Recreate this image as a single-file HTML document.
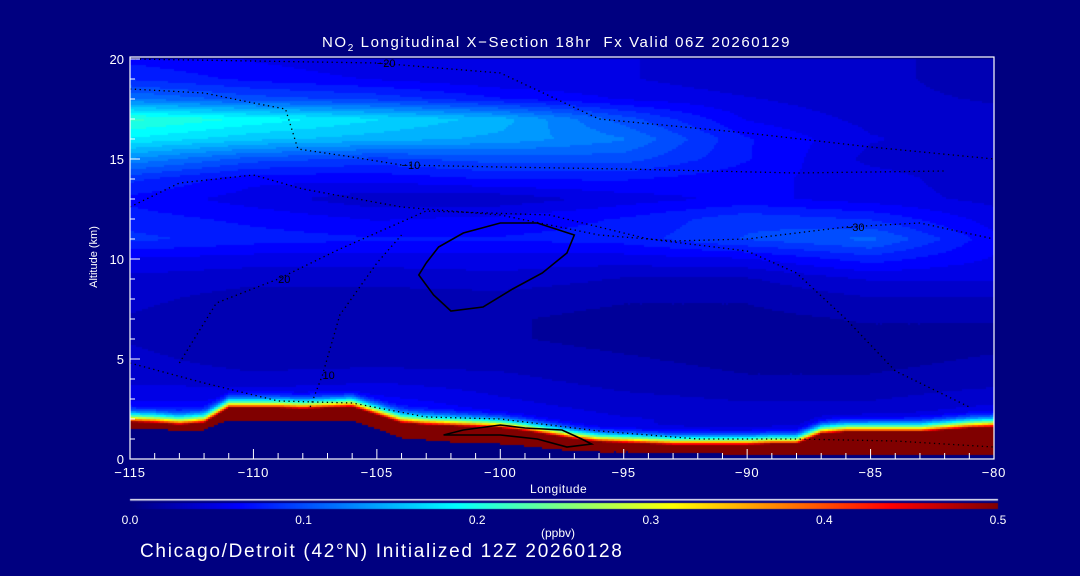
<!DOCTYPE html>
<html><head><meta charset="utf-8">
<style>
html,body{margin:0;padding:0;background:#000080;}
#wrap{position:relative;width:1080px;height:576px;background:#000080;overflow:hidden;font-family:"Liberation Sans",sans-serif;color:#fff;}
canvas{position:absolute;left:0;top:0;}
.t{position:absolute;white-space:nowrap;color:#fff;}
</style></head>
<body>
<div id="wrap">
<canvas id="cv" width="1080" height="576"></canvas>
<svg id="ov" width="1080" height="576" style="position:absolute;left:0;top:0"></svg>
<div class="t" style="left:322px;top:34px;font-size:15px;letter-spacing:1.6px;">NO<sub style="font-size:10px">2</sub> Longitudinal X&minus;Section 18hr&nbsp; Fx Valid 06Z 20260129</div>
<div class="t" style="left:54px;top:251px;font-size:11px;transform:rotate(-90deg);width:80px;text-align:center;">Altitude (km)</div>
<div class="t" style="left:530px;top:482px;font-size:12px;letter-spacing:0.5px;">Longitude</div>
<div class="t" style="left:541px;top:526px;font-size:12px;">(ppbv)</div>
<div class="t" style="left:140px;top:541px;font-size:19px;letter-spacing:1.7px;">Chicago/Detroit (42°N) Initialized 12Z 20260128</div>
</div>
<script>
const lons=[-115,-110,-105,-100,-95,-90,-85,-80];
const alts=[0,1,2,3,4,5,6,7,8,9,10,11,12,13,14,15,16,17,18,19,20];
const no2=[
[.07,.08,.09,.055,.045,.04,.045,.055],
[.07,.08,.09,.055,.045,.04,.045,.055],
[.07,.08,.09,.055,.045,.04,.045,.055],
[.055,.055,.06,.045,.035,.03,.03,.04],
[.04,.035,.04,.035,.025,.02,.02,.025],
[.035,.025,.025,.025,.02,.015,.015,.02],
[.03,.02,.02,.02,.015,.015,.015,.015],
[.03,.02,.02,.02,.015,.015,.02,.02],
[.035,.025,.025,.025,.02,.02,.03,.03],
[.04,.035,.035,.04,.03,.03,.045,.045],
[.055,.05,.05,.05,.05,.055,.075,.055],
[.085,.075,.07,.07,.075,.095,.11,.06],
[.075,.065,.055,.06,.07,.09,.08,.05],
[.065,.05,.035,.035,.05,.06,.05,.04],
[.085,.06,.06,.07,.07,.06,.05,.035],
[.13,.10,.09,.10,.10,.07,.04,.035],
[.18,.16,.15,.14,.12,.07,.045,.035],
[.21,.19,.17,.15,.10,.055,.04,.035],
[.12,.10,.09,.07,.055,.045,.035,.03],
[.08,.065,.055,.045,.045,.035,.035,.025],
[.065,.055,.045,.045,.045,.035,.035,.025]];
const terrLons=[-115,-114,-113,-112,-111,-110,-109,-108,-107,-106,-105,-104,-103,-102,-101,-100,-99,-98,-97,-96,-95,-94,-93,-92,-91,-90,-89,-88,-87,-86,-85,-84,-83,-82,-81,-80];
const terrTop=[1.85,1.8,1.7,1.8,2.55,2.55,2.55,2.5,2.55,2.6,2.2,1.8,1.7,1.65,1.6,1.55,1.4,1.2,1.0,0.85,0.8,0.75,0.7,0.7,0.7,0.7,0.75,0.75,1.25,1.35,1.35,1.35,1.35,1.45,1.55,1.6];
const redDepth=[0.3,0.3,0.3,0.35,0.6,0.6,0.6,0.6,0.6,0.7,0.7,0.75,0.75,0.8,0.8,0.8,0.75,0.7,0.6,0.5,0.45,0.4,0.4,0.4,0.45,0.45,0.5,0.5,1.0,1.1,1.1,1.1,1.1,1.2,1.3,1.4];
const xTicks=[-115,-110,-105,-100,-95,-90,-85,-80];
const xTickLabels=["\u2212115","\u2212110","\u2212105","\u2212100","\u221295","\u221290","\u221285","\u221280"];
const yTicks=[0,5,10,15,20];
const cbTicks=[0,0.1,0.2,0.3,0.4,0.5];
const cbLabels=["0.0","0.1","0.2","0.3","0.4","0.5"];
const contourZero=[[-103,9.8],[-102.5,10.6],[-101.5,11.3],[-100,11.8],[-98.5,11.8],[-97,11.2],[-97.3,10.3],[-98.3,9.3],[-99.5,8.5],[-100.7,7.6],[-102,7.4],[-102.7,8.2],[-103.3,9.2],[-103,9.8]];
const contourSurf=[[-102.3,1.2],[-101.5,1.45],[-100,1.7],[-99,1.55],[-97.5,1.45],[-96.7,1.0],[-96.3,0.75],[-97.3,0.6],[-98.5,1.0],[-100,1.2],[-101.5,1.2],[-102.3,1.2]];
const contourM10=[[-115,18.5],[-112,18.3],[-110,17.8],[-108.7,17.5],[-108.2,15.5],[-106,15.1],[-104,14.7],[-100,14.6],[-95,14.5],[-88,14.3],[-82,14.4]];
const contourM20=[[-115,12.6],[-113,13.8],[-110,14.2],[-108,13.5],[-104,12.6],[-100,12.2],[-96,11.2],[-93,10.9],[-90,11.0],[-86,11.6],[-83,11.8],[-80,11.0]];
const contourM30=[[-115,20],[-105,19.8],[-100,19.3],[-96,17.0],[-90,16.3],[-85,15.6],[-80,15.0]];
const contour20=[[-113,4.8],[-111.5,7.8],[-109,9.0],[-106.5,10.5],[-103,12.4],[-98,12.2],[-94,11.0],[-90,10.4],[-88,9.3],[-86,7.0],[-84,4.4],[-81,2.6]];
const contour10=[[-115,4.8],[-112,3.8],[-109,2.9],[-106,2.8],[-103,2.1],[-100,2.0],[-96,1.4],[-92,1.0],[-88,1.0],[-84,0.9],[-80,0.6]];
const contour10b=[[-107.7,2.6],[-107.2,4.2],[-106.5,7.2],[-105,9.8],[-104,11.2]];

const X0=130,X1=994,Y0=459,Y1=59;
const xs=l=>X0+(l-lons[0])/(lons[lons.length-1]-lons[0])*(X1-X0);
const ys=a=>Y0-(a-alts[0])/(alts[alts.length-1]-alts[0])*(Y0-Y1);
function interp1(arrX,arrY,x){if(x<=arrX[0])return arrY[0];for(let i=1;i<arrX.length;i++){if(x<=arrX[i]){const f=(x-arrX[i-1])/(arrX[i]-arrX[i-1]);return arrY[i-1]+f*(arrY[i]-arrY[i-1]);}}return arrY[arrY.length-1];}
function field(lon,alt){
  let i=0;while(i<lons.length-2&&lon>lons[i+1])i++;
  let j=0;while(j<alts.length-2&&alt>alts[j+1])j++;
  const fx=Math.min(1,Math.max(0,(lon-lons[i])/(lons[i+1]-lons[i])));
  const fy=Math.min(1,Math.max(0,(alt-alts[j])/(alts[j+1]-alts[j])));
  const a=no2[j][i],b=no2[j][i+1],c=no2[j+1][i],d=no2[j+1][i+1];
  return (a*(1-fx)+b*fx)*(1-fy)+(c*(1-fx)+d*fx)*fy;
}
function jet(v){
  let f=Math.max(0,Math.min(1,v/0.5));
  const r=Math.max(0,Math.min(1,Math.min(4*f-1.5,-4*f+4.5)));
  const g=Math.max(0,Math.min(1,Math.min(4*f-0.5,-4*f+3.5)));
  const b=Math.max(0,Math.min(1,Math.min(4*f+0.5,-4*f+2.5)));
  return 'rgb('+Math.round(r*255)+','+Math.round(g*255)+','+Math.round(b*255)+')';
}
const cv=document.getElementById('cv');const ctx=cv.getContext('2d');
ctx.fillStyle='#000080';ctx.fillRect(0,0,1080,576);
const step=2;
for(let px=X0;px<X1;px+=step){
  const lon=lons[0]+(px+1-X0)/(X1-X0)*(lons[lons.length-1]-lons[0]);
  const t=interp1(terrLons,terrTop,lon),dep=interp1(terrLons,redDepth,lon);
  for(let py=Y1;py<Y0;py+=step){
    const alt=(Y0-(py+1))/(Y0-Y1)*20;
    let v;
    if(alt<t-dep){v=0;}
    else if(alt<t){v=0.5;}
    else{
      const base=field(lon,alt);
      const k=Math.max(0,1-(alt-t)/1.1);
      v=base+(0.5-base)*Math.pow(k,3);
      v=Math.round(v/0.0125)*0.0125;
    }
    ctx.fillStyle=jet(v);ctx.fillRect(px,py,step,step);
  }
}
for(let px=130;px<998;px++){ctx.fillStyle=jet((px-130)/(998-130)*0.5);ctx.fillRect(px,503,1,6);}
ctx.fillStyle='#fff';ctx.fillRect(130,499,868,1.5);

const NS='http://www.w3.org/2000/svg';const ov=document.getElementById('ov');
function mk(tag,attrs){const e=document.createElementNS(NS,tag);for(const k in attrs)e.setAttribute(k,attrs[k]);ov.appendChild(e);return e;}
function pathOf(pts){return pts.map((p,i)=>(i?'L':'M')+xs(p[0]).toFixed(1)+' '+ys(p[1]).toFixed(1)).join(' ');}
function contour(pts,name,solid,label,li){
  const p=mk('path',{d:pathOf(pts),fill:'none',stroke:'#000','stroke-width':solid?1.6:1.3,'stroke-dasharray':solid?'none':'1.3 3.5'});
  
  
  if(label){const q=pts[li];const tx=mk('text',{x:xs(q[0]),y:ys(q[1])+4,fill:'#000','font-size':11,'font-family':'Liberation Sans, sans-serif'});tx.textContent=label;
    
    }
}
contour(contourZero,'contour-zero',true,null,0);
contour(contourSurf,'contour-surface-zero',true,null,0);
contour(contourM10,'contour-minus-10',false,'\u221210',6);
contour(contourM20,'contour-minus-20',false,'\u221230',9);
contour(contourM30,'contour-minus-30',false,'\u221220',1);
contour(contour20,'contour-20',false,'20',2);
contour(contour10,'contour-10',false,null,0);
contour(contour10b,'contour-10b',false,'10',1);
const fr=mk('rect',{x:X0,y:Y1-2,width:X1-X0,height:Y0-Y1+2,fill:'none',stroke:'#fff','stroke-width':1.2});


for(let l=lons[0];l<=lons[lons.length-1];l++){
  const major=(xTicks.indexOf(l)>=0);
  const tk=mk('line',{x1:xs(l),x2:xs(l),y1:Y0,y2:Y0-(major?10:6),stroke:'#fff','stroke-width':1});
  
  
}
xTicks.forEach((l,i)=>{const t=mk('text',{x:xs(l),y:Y0+18,fill:'#fff','font-size':13,'text-anchor':'middle','letter-spacing':'0.8','font-family':'Liberation Sans, sans-serif'});t.textContent=xTickLabels[i];
  
  });
for(let a=0;a<=20;a++){
  const major=yTicks.indexOf(a)>=0;
  const tk=mk('line',{x1:X0,x2:X0+(major?10:5),y1:ys(a),y2:ys(a),stroke:'#fff','stroke-width':1});
  
  
}
yTicks.forEach(a=>{const t=mk('text',{x:X0-6,y:ys(a)+5,fill:'#fff','font-size':13,'text-anchor':'end','font-family':'Liberation Sans, sans-serif'});t.textContent=String(a);
  
  });
cbTicks.forEach((v,i)=>{const t=mk('text',{x:130+v/0.5*868,y:524,fill:'#fff','font-size':12,'text-anchor':'middle','font-family':'Liberation Sans, sans-serif'});t.textContent=cbLabels[i];
  
  });
</script>
</body></html>
